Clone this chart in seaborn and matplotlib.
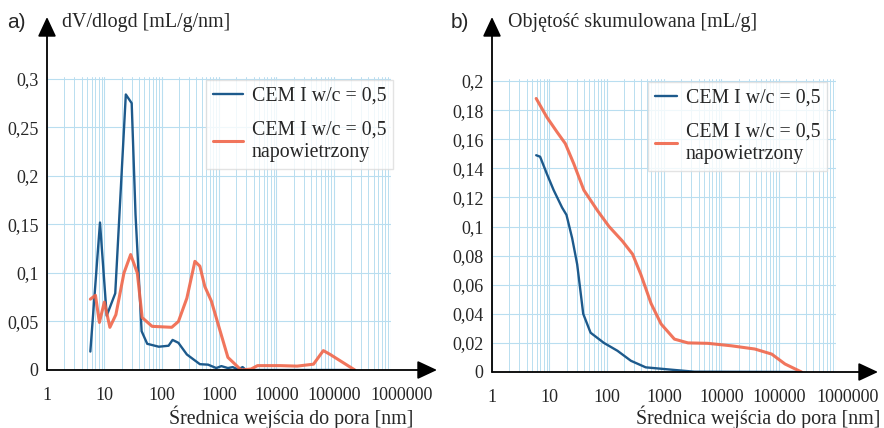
import numpy as np
import pandas as pd
import matplotlib
matplotlib.use("Agg")
import matplotlib.pyplot as plt
import matplotlib.transforms as mtransforms
import seaborn as sns
from matplotlib.ticker import FuncFormatter, FixedLocator

# --- data ---
a_blue_x = [5.7, 8.4, 11, 15.5, 23.7, 30, 35, 44.7, 56, 89, 132, 155, 196, 275, 464, 646,
            895, 1100, 1430, 1740, 2130, 2580, 2950, 10000, 100000, 234000]
a_blue_y = [0.019, 0.152, 0.056, 0.079, 0.284, 0.275, 0.16, 0.040, 0.027, 0.024, 0.025, 0.031,
            0.028, 0.016, 0.006, 0.0055, 0.002, 0.004, 0.002, 0.003, 0.0005, 0.003, 0, 0, 0, 0]
a_orange_x = [5.7, 7, 8.2, 10, 12.5, 15.9, 22, 28.8, 37.6, 45.7, 68, 150, 196, 275, 380, 464,
              566, 736, 1025, 1430, 2430, 3630, 4700, 11800, 23000, 44500, 66000, 87000, 234000]
a_orange_y = [0.073, 0.077, 0.049, 0.070, 0.044, 0.057, 0.10, 0.119, 0.10, 0.054, 0.045, 0.044,
              0.050, 0.074, 0.112, 0.107, 0.086, 0.071, 0.042, 0.013, 0.0, 0.001, 0.0045, 0.0045,
              0.004, 0.006, 0.020, 0.016, 0.0]

b_blue_x = [5.9, 6.9, 9.1, 11.9, 16.7, 19.9, 25, 30.6, 39, 52.4, 89.5, 154, 265, 480, 1520,
            3400, 250000]
b_blue_y = [0.149, 0.148, 0.136, 0.125, 0.113, 0.108, 0.092, 0.074, 0.040, 0.027, 0.020,
            0.0146, 0.0077, 0.0032, 0.0014, 0.0002, 0.0]
b_orange_x = [5.9, 9.1, 13.6, 19, 26.8, 40, 69, 110, 188, 283, 395, 596, 890, 1520, 2620,
              5830, 15000, 38400, 75600, 129000, 250000]
b_orange_y = [0.188, 0.175, 0.165, 0.157, 0.143, 0.125, 0.111, 0.100, 0.090, 0.081, 0.067,
              0.047, 0.033, 0.0226, 0.020, 0.0197, 0.018, 0.0158, 0.0123, 0.0055, 0.0]

x_ticks = [1, 10, 100, 1000, 10000, 100000, 1000000]
a_yticks = [0, 0.05, 0.1, 0.15, 0.2, 0.25, 0.3]
b_yticks = [0, 0.02, 0.04, 0.06, 0.08, 0.1, 0.12, 0.14, 0.16, 0.18, 0.2]

labels = ["CEM I w/c = 0,5", "CEM I w/c = 0,5\nnapowietrzony"]
blue = "#1d5a8c"
orange = "#f0664a"
grid_c = "#b9def0"

sns.set_style("white")
plt.rcParams["font.family"] = ["Liberation Serif", "DejaVu Serif"]
plt.rcParams["font.size"] = 13

fig = plt.figure(figsize=(8.84, 4.28), dpi=100)
W, H = 884, 428


def make_axes(x0, x1, y_bottom, y_top):
    return fig.add_axes([x0 / W, (H - y_bottom) / H, (x1 - x0) / W, (y_bottom - y_top) / H])


def style(ax, yticks, ymax, arrow_x, arrow_y, leg_x, hlen, last_shift):
    ax.set_xscale("log")
    ax.set_xlim(1, 1e6)
    ax.set_ylim(0, ymax)
    ax.xaxis.set_major_locator(FixedLocator(x_ticks))
    ax.xaxis.set_major_formatter(FuncFormatter(lambda v, p: f"{int(round(v))}"))
    ax.yaxis.set_major_locator(FixedLocator(yticks))
    ax.yaxis.set_major_formatter(FuncFormatter(lambda v, p: f"{v:g}".replace(".", ",")))
    ax.grid(True, which="major", color=grid_c, lw=0.8)
    ax.grid(True, which="minor", axis="x", color=grid_c, lw=0.7)
    ax.tick_params(axis="both", which="both", length=0)
    ax.tick_params(axis="x", pad=12, labelsize=13)
    ax.tick_params(axis="y", pad=6, labelsize=13)
    for s in ax.spines.values():
        s.set_visible(False)
    ax.set_xlabel("")
    ax.set_ylabel("")
    # last tick label sits a bit right of its grid line in the original
    last = ax.xaxis.get_major_ticks()[-1].label1
    last.set_transform(last.get_transform() +
                       mtransforms.ScaledTranslation(last_shift / 100, 0, fig.dpi_scale_trans))
    arrow = dict(arrowstyle="-|>,head_length=0.6,head_width=0.28", color="black", lw=1.3,
                 mutation_scale=20, shrinkA=0, shrinkB=0)
    ax.annotate("", xy=(arrow_x, 0), xytext=(0, 0), xycoords="axes fraction",
                arrowprops=arrow, annotation_clip=False)
    ax.annotate("", xy=(0, arrow_y), xytext=(0, 0), xycoords="axes fraction",
                arrowprops=arrow, annotation_clip=False)
    handles = ax.get_lines()[:2]
    leg = ax.legend(handles, labels, loc="upper right", bbox_to_anchor=(leg_x, 0.99),
                    frameon=True, fancybox=False, fontsize=14.3, handlelength=hlen,
                    borderpad=0.35, labelspacing=0.75, handletextpad=0.45, borderaxespad=0)
    leg.get_frame().set_edgecolor("#dddddd")
    leg.get_frame().set_linewidth(1.0)


# panel a
ax1 = make_axes(47, 391, 370, 77)
sns.lineplot(x=a_blue_x, y=a_blue_y, ax=ax1, color=blue, lw=1.7, estimator=None, sort=False)
sns.lineplot(x=a_orange_x, y=a_orange_y, ax=ax1, color=orange, lw=2.2, estimator=None,
             sort=False, alpha=0.9)
style(ax1, a_yticks, 0.302, (437 - 47) / 344, (370 - 17) / 293, 1.006, 1.5, 11)

# panel b
ax2 = make_axes(492, 836, 372, 79)
sns.lineplot(x=b_blue_x, y=b_blue_y, ax=ax2, color=blue, lw=1.7, estimator=None, sort=False)
sns.lineplot(x=b_orange_x, y=b_orange_y, ax=ax2, color=orange, lw=2.2, estimator=None,
             sort=False, alpha=0.9)
style(ax2, b_yticks, 0.2014, (878 - 492) / 344, (372 - 17) / 293, 0.975, 1.1, 12)

# titles and axis labels
fig.text(7 / W, 1 - 23 / H, "a)", family="Liberation Sans", fontsize=15, va="center")
fig.text(62 / W, 1 - 23 / H, "dV/dlogd [mL/g/nm]", fontsize=14.4, va="center")
fig.text(451 / W, 1 - 23 / H, "b)", family="Liberation Sans", fontsize=15, va="center")
fig.text(508 / W, 1 - 23 / H, "Objętość skumulowana [mL/g]", fontsize=14.4, va="center")
fig.text(413 / W, 1 - 424 / H, "Średnica wejścia do pora [nm]", fontsize=14.4,
         va="baseline", ha="right")
fig.text(880 / W, 1 - 424 / H, "Średnica wejścia do pora [nm]", fontsize=14.4,
         va="baseline", ha="right")

fig.savefig("out.png", dpi=100)
